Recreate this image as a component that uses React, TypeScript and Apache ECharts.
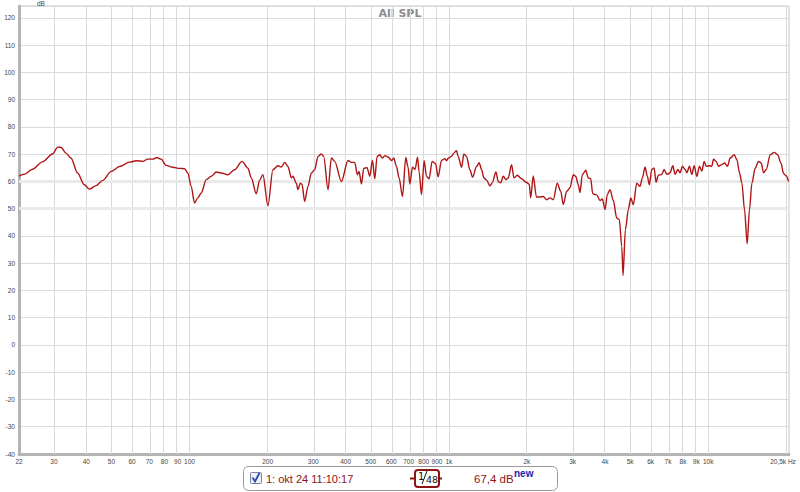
import React, { useEffect, useRef } from "react";
import * as echarts from "echarts";

// Frequency (Hz) and SPL (dB)
const FREQ = [
  22, 23.1, 24.8, 27.1, 29.7, 31.0, 32.0, 33.4, 34.9, 37.0, 39.3, 41.1, 43.6, 46.3, 49.9, 53.7, 58.7, 62.3, 66.0, 69.0,
  72.2, 74.8, 77.7, 81.3, 86.2, 91.5, 95.7, 98.5, 101.5, 104.5, 107.6, 111.0, 116.0, 121.3, 126.8, 132.6, 140.6, 149.2, 159.2, 168.0,
  173.1, 180.9, 186.3, 191.9, 200.6, 209.7, 219.2, 226.0, 232.7, 239.6, 247.0, 250.5, 258.2, 261.9, 267.6, 271.4, 278.0, 286.3, 295.1, 303.8,
  312.9, 322.5, 329.2, 342.0, 352.5, 362.9, 385.2, 408.5, 421.0, 433.6, 444.1, 450.5, 460.2, 469.7, 483.7, 495.5, 507.5, 518.0, 528.8, 541.6,
  554.6, 566.2, 583.0, 601.0, 613.3, 628.3, 642.9, 662.6, 682.3, 696.5, 707.0, 724.1, 741.2, 757.2, 767.9, 784.5, 802.8, 820.2, 839.3, 862.0,
  888.4, 909.3, 937.2, 965.1, 979.7, 996.2, 1024, 1045, 1071, 1086, 1120, 1143, 1170, 1205, 1235, 1279, 1309, 1338, 1365, 1398,
  1440, 1470, 1519, 1550, 1584, 1621, 1660, 1694, 1746, 1782, 1835, 1909, 1983, 2042, 2068, 2116, 2177, 2246, 2313, 2384,
  2455, 2528, 2619, 2700, 2763, 2848, 2933, 3020, 3085, 3157, 3205, 3271, 3372, 3450, 3524, 3588, 3718, 3828, 3908, 4003,
  4085, 4184, 4309, 4441, 4545, 4643, 4697, 4795, 4924, 5029, 5147, 5305, 5463, 5575, 5711, 5828, 5933, 6060, 6186, 6297,
  6427, 6624, 6761, 6925, 7132, 7305, 7457, 7638, 7796, 7958, 8151, 8276, 8469, 8652, 8830, 9046, 9256, 9456, 9651, 9824,
  10116, 10335, 10484, 10738, 10960, 11296, 11560, 11873, 12161, 12600, 12906, 13207, 13492, 13809, 14143, 14436, 14746, 15186, 15638, 16018,
  16350, 16747, 17356, 17982, 18519, 19087, 19532, 20009, 20417,
];
const SPL = [
  62.0, 62.7, 64.5, 67.2, 70.2, 72.6, 72.5, 70.4, 68.6, 63.1, 58.8, 57.2, 58.5, 60.4, 63.7, 65.5, 67.1, 67.6, 67.4, 68.2,
  68.2, 68.8, 68.2, 65.9, 65.2, 64.8, 64.7, 63.1, 58.2, 52.1, 54.0, 55.8, 60.7, 61.9, 63.5, 63.1, 62.5, 64.3, 67.4, 64.9,
  61.3, 55.5, 60.5, 62.5, 51.1, 64.3, 65.8, 65.3, 67.0, 65.5, 61.3, 61.9, 59.4, 57.0, 59.4, 59.0, 52.7, 58.2, 63.1, 64.3,
  69.2, 70.1, 69.2, 57.0, 68.6, 67.4, 60.0, 67.7, 67.0, 67.0, 62.5, 63.7, 59.1, 64.8, 65.1, 61.9, 67.7, 61.0, 69.2, 69.8,
  68.6, 69.5, 69.0, 67.7, 68.6, 65.5, 61.3, 54.5, 68.8, 65.2, 59.1, 65.2, 64.5, 68.9, 63.6, 55.2, 67.6, 61.9, 61.0, 67.4,
  66.6, 61.7, 67.7, 68.4, 67.6, 68.6, 69.2, 70.4, 71.3, 69.2, 65.2, 70.1, 69.2, 64.3, 61.6, 65.5, 66.9, 64.3, 61.3, 60.5,
  58.4, 59.5, 63.5, 60.0, 59.5, 61.9, 60.7, 61.3, 66.2, 61.3, 62.3, 61.0, 59.8, 59.0, 54.0, 62.0, 54.3, 54.3, 54.5, 53.3,
  54.0, 53.3, 59.4, 56.4, 51.5, 56.4, 57.7, 62.5, 61.9, 58.8, 55.9, 62.5, 64.1, 61.3, 61.0, 55.5, 55.1, 53.0, 53.6, 49.7,
  55.2, 57.0, 53.0, 46.6, 46.0, 36.2, 25.5, 42.3, 49.7, 54.0, 51.5, 59.4, 58.2, 61.3, 65.3, 61.9, 58.8, 64.4, 65.0, 59.7,
  62.3, 62.6, 64.4, 62.6, 63.2, 65.8, 62.6, 64.4, 63.2, 65.6, 64.4, 63.2, 65.6, 62.6, 65.8, 61.9, 65.6, 63.8, 67.4, 65.6,
  65.8, 65.6, 68.2, 67.4, 65.6, 66.2, 66.8, 65.6, 68.6, 69.8, 68.0, 63.2, 59.4, 49.7, 37.2, 49.7, 59.4, 64.9, 67.4, 66.8,
  63.2, 64.4, 69.8, 70.7, 69.8, 66.8, 62.9, 62.0, 60.0,
];

const X_TICKS = [22, 30, 40, 50, 60, 70, 80, 90, 100, 200, 300, 400, 500, 600, 700, 800, 900, 1000, 2000, 3000, 4000, 5000, 6000, 7000, 8000, 9000, 10000, 20500];
const X_TICK_LABELS = ["22", "30", "40", "50", "60", "70", "80", "90", "100", "200", "300", "400", "500", "600", "700", "800", "900", "1k", "2k", "3k", "4k", "5k", "6k", "7k", "8k", "9k", "10k", "20,5k Hz"];
const GRID_FREQS = [30, 40, 50, 60, 70, 80, 90, 100, 200, 300, 400, 500, 600, 700, 800, 900, 1000, 2000, 3000, 4000, 5000, 6000, 7000, 8000, 9000, 10000, 20000];
const BAND_LEVELS = [50, 60];
const Y_MIN = -40;
const Y_MAX = 124.4;

const TITLE = "All SPL";
const LEGEND_NAME = "1: okt 24 11:10:17";
const LEGEND_VALUE = "67,4 dB";

export default function App() {
  const ref = useRef<HTMLDivElement>(null);
  useEffect(() => {
    if (!ref.current) return;
    const chart = echarts.init(ref.current, null, { renderer: "svg" });
    const data = FREQ.map((f, i) => [Math.log10(f), SPL[i]]);
    const red = "#8e1414";
    const labelFont = "Liberation Sans";
    chart.setOption({
      animation: false,
      backgroundColor: "#ffffff",
      grid: {
        left: 19, right: 11, top: 6, bottom: 38, show: true, borderColor: "#c6c6c6", borderWidth: 1,
        containLabel: false, outerBoundsMode: "none",
      },
      xAxis: {
        type: "value",
        min: Math.log10(22),
        max: Math.log10(20500),
        splitLine: { show: false },
        axisTick: { show: false },
        axisLine: { show: true, onZero: false, lineStyle: { color: "#b4b4b4", width: 3 } },
        axisLabel: {
          customValues: X_TICKS.map((f) => Math.log10(f)),
          fontSize: 6.5,
          color: "#444",
          fontFamily: labelFont,
          margin: 4,
          rich: { last: { fontSize: 6.5, color: "#444", fontFamily: labelFont, padding: [0, 12, 0, 0] } },
          formatter: (v: number) => {
            const i = X_TICKS.findIndex((f) => Math.abs(Math.log10(f) - v) < 1e-6);
            if (i < 0) return "";
            return i === X_TICKS.length - 1 ? `{last|${X_TICK_LABELS[i]}}` : X_TICK_LABELS[i];
          },
        },
      },
      yAxis: {
        type: "value",
        min: Y_MIN,
        max: Y_MAX,
        interval: 10,
        splitLine: { show: true, lineStyle: { color: "#dadada", width: 1 } },
        axisTick: { show: false },
        axisLine: { show: true, onZero: false, lineStyle: { color: "#b4b4b4", width: 3 } },
        axisLabel: { fontSize: 6.5, color: "#444", fontFamily: labelFont, margin: 4, showMaxLabel: false },
      },
      series: [
        {
          type: "line",
          data,
          silent: true,
          showSymbol: false,
          lineStyle: { opacity: 0 },
          z: 1,
          markLine: {
            silent: true,
            symbol: ["none", "none"],
            label: { show: false },
            lineStyle: { color: "#dadada", width: 1, type: "solid" },
            data: [
              ...GRID_FREQS.map((f) => ({ xAxis: Math.log10(f) })),
              ...BAND_LEVELS.map((l) => ({ yAxis: l, lineStyle: { color: "#e9e9e9", width: 3, type: "solid" } })),
            ],
          },
        },
        {
          type: "line",
          data,
          showSymbol: false,
          smooth: 0.3,
          smoothMonotone: "x",
          z: 5,
          lineStyle: { color: "#b01515", width: 1.4 },
        },
      ],
      graphic: [
        { type: "text", left: 37, top: 0, style: { text: "dB", fontSize: 6.5, fill: "#444", fontFamily: labelFont } },
        {
          type: "text", x: 400, y: 13,
          style: { text: TITLE, fontSize: 11, fontWeight: "bold", fill: "#8c8c8c", fontFamily: "DejaVu Sans", align: "center", verticalAlign: "middle" },
        },
        { type: "rect", shape: { x: 243.5, y: 466.5, width: 314, height: 24, r: 5 }, style: { fill: "#fff", stroke: "#9a9a9a", lineWidth: 1 } },
        { type: "rect", shape: { x: 250.5, y: 472.5, width: 11, height: 11, r: 1 }, style: { fill: "#eef0f8", stroke: "#7a7f9a", lineWidth: 1 } },
        { type: "polyline", shape: { points: [[252.5, 477.5], [255, 481.5], [259.5, 473]] }, style: { stroke: "#2a4aa8", lineWidth: 1.8, fill: null } },
        {
          type: "text", x: 266, y: 479,
          style: { text: LEGEND_NAME, fontSize: 11, fill: red, fontFamily: "Liberation Sans", verticalAlign: "middle" },
        },
        { type: "line", shape: { x1: 410, y1: 478.5, x2: 442, y2: 478.5 }, style: { stroke: red, lineWidth: 2 } },
        { type: "rect", shape: { x: 415, y: 470, width: 24, height: 17, r: 3 }, style: { fill: "#fff", stroke: red, lineWidth: 2 } },
        { type: "text", x: 418, y: 471, style: { text: "1", fontSize: 10, fill: "#111", fontFamily: "DejaVu Sans" } },
        { type: "line", shape: { x1: 422, y1: 484, x2: 427, y2: 471 }, style: { stroke: "#111", lineWidth: 1 } },
        { type: "text", x: 426, y: 474, style: { text: "48", fontSize: 9.5, fill: "#111", fontFamily: "DejaVu Sans" } },
        {
          type: "text", x: 474, y: 479,
          style: { text: LEGEND_VALUE, fontSize: 11.5, fill: red, fontFamily: "Liberation Sans", verticalAlign: "middle" },
        },
        {
          type: "text", x: 514, y: 473,
          style: { text: "new", fontSize: 10, fontWeight: "bold", fill: "#1a22b0", fontFamily: "Liberation Sans", verticalAlign: "middle" },
        },
      ],
    });
    return () => chart.dispose();
  }, []);
  return <div ref={ref} style={{ position: "fixed", left: 0, top: 0, width: 800, height: 492 }} />;
}
